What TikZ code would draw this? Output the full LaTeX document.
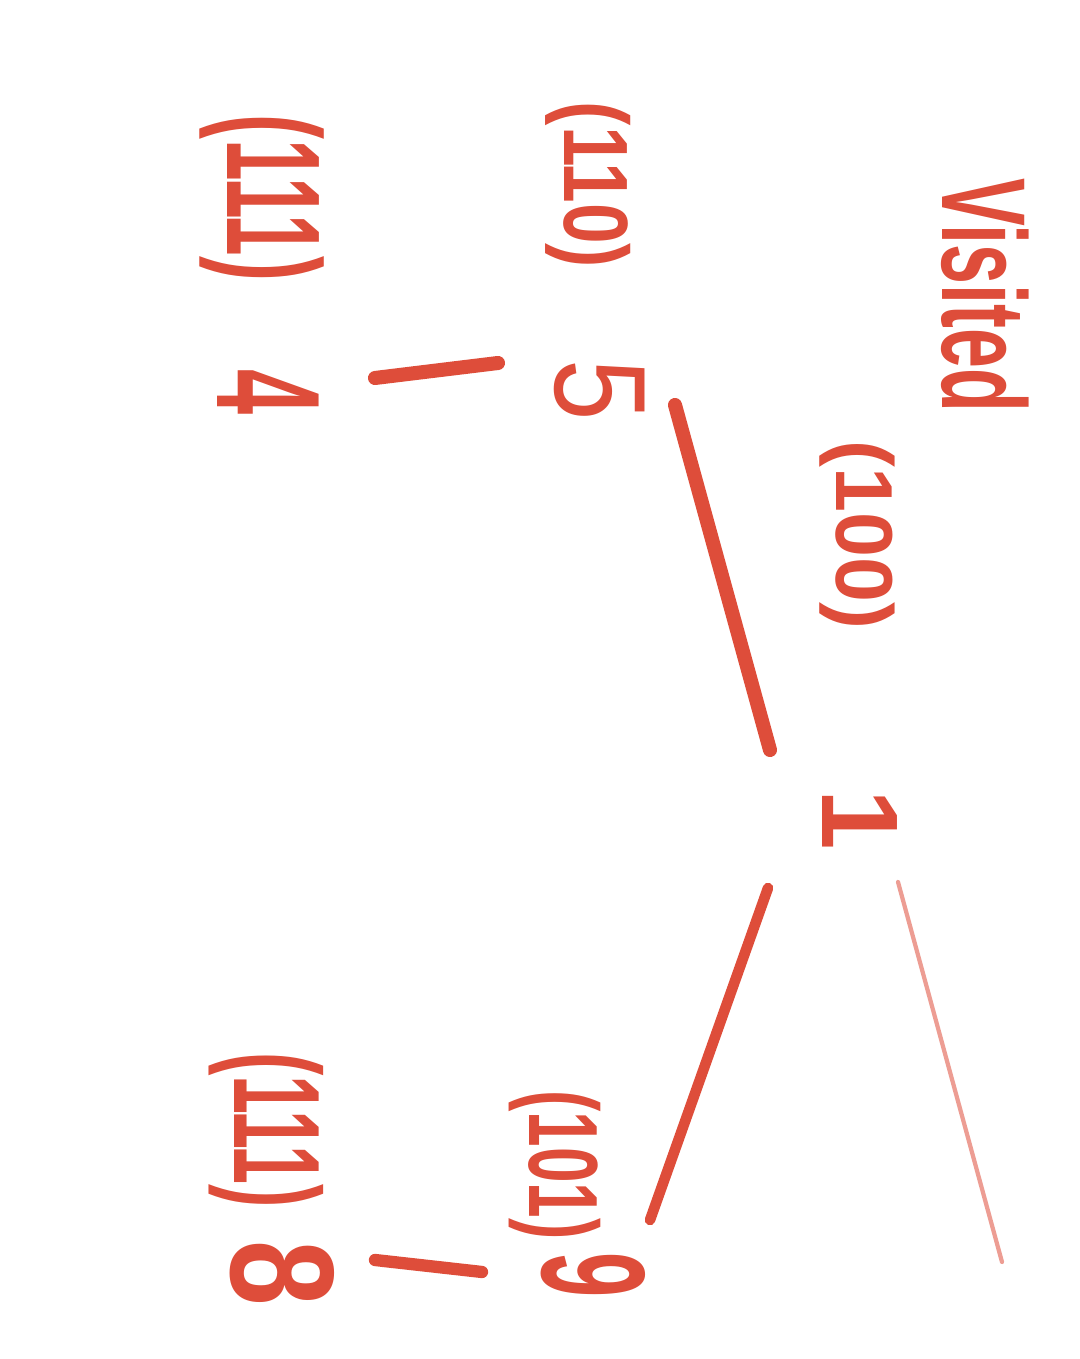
\documentclass[tikz,border=0pt]{standalone}
\usepackage{fontspec}
\setmainfont{Liberation Sans}
\usepackage{xcolor}
\usepackage{tikz}

\definecolor{penred}{RGB}{222,77,58}
\newcommand{\hand}[1]{\bfseries\fontsize{#1}{#1}\selectfont}

\begin{document}
\begin{tikzpicture}[
    lbl/.style={text=penred, rotate=-90, inner sep=0pt},
    edge/.style={draw=penred, line cap=round, line width=3.5pt},
    faint/.style={draw=penred!55, line cap=round, line width=1.2pt}
]
\fill[white] (0,0) rectangle (10.8,13.59);
\useasboundingbox (0,0) rectangle (10.8,13.59);

\node[lbl, font=\hand{34}, xscale=0.6] (visited) at (9.85,10.64) {Visited};

% root
\node[lbl, font=\hand{31}] (one) at (8.6,5.39) {1};
\node[lbl, font=\hand{23}] (lblone) at (8.57,8.24) {(100)};

% left branch
\node[lbl, font=\fontsize{37}{37}\selectfont, xscale=0.85] (five) at (6.0,9.69) {5};
\node[lbl, font=\hand{26}, xscale=0.8] (lblfive) at (5.88,11.74) {(110)};
\node[lbl, font=\hand{42}, xscale=0.55] (four) at (2.68,9.67) {4};
\node[lbl, font=\hand{38}, xscale=0.56] (lblfour) at (2.62,11.61) {(111)};

% right branch
\node[lbl, font=\hand{42}, xscale=0.55] (nine) at (5.93,0.84) {9};
\node[lbl, font=\hand{28}, xscale=0.65] (lblnine) at (5.55,1.94) {(101)};
\node[lbl, font=\hand{42}, xscale=0.8] (eight) at (2.82,0.86) {8};
\node[lbl, font=\hand{35}, xscale=0.57] (lbleight) at (2.66,2.29) {(111)};

\coordinate (loose) at (10.02,0.97);

\draw[edge, line width=4pt] ([shift={(-0.90,0.70)}]one.center) -- ([shift={(0.75,-0.15)}]five.center);
\draw[edge, line width=3pt] ([shift={(-0.92,-0.68)}]one.center) -- ([shift={(0.57,0.55)}]nine.center);
\draw[faint] ([shift={(0.38,-0.62)}]one.center) -- (loose);
\draw[edge, line width=4pt] ([shift={(-1.02,0.27)}]five.center) -- ([shift={(1.07,0.14)}]four.center);
\draw[edge] ([shift={(-1.11,0.03)}]nine.center) -- ([shift={(0.93,0.13)}]eight.center);

\end{tikzpicture}
\end{document}
